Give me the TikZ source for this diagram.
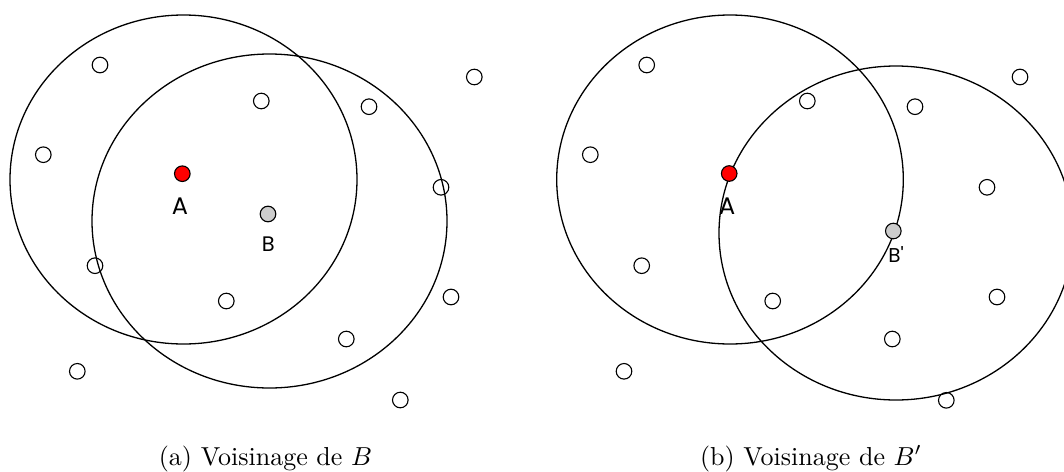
\documentclass[tikz,border=0pt]{standalone}
\usepackage{fontspec}
\newfontfamily\labfont{Poppins}
\begin{document}
\begin{tikzpicture}[x=1pt,y=-1pt,
  dot/.style={circle,draw=black,line width=1.1pt,minimum size=15.6pt,inner sep=0pt},
  reddot/.style={dot,fill=red},
  graydot/.style={dot,fill=black!20},
  zone/.style={draw=black,line width=1.3pt},
  lab/.style={inner sep=0pt,font=\labfont},
  captext/.style={inner sep=0pt,anchor=base,scale=2.6}]
\clip (0,0) rectangle (1064,471);
% ---------- (a) ----------
\coordinate (ca1) at (183.5,179.5);
\coordinate (ca2) at (269.5,221);
\draw[zone] (ca1) ellipse [x radius=173.5pt,y radius=164.5pt];
\draw[zone] (ca2) ellipse [x radius=177.5pt,y radius=167pt];
\foreach \i/\px/\py in {1/100/65,2/474.3/77,3/261.3/101,4/369/106.7,5/43.3/154.7,6/441/187.3,
  7/95/265.7,8/451/297,9/226.3/301,10/346.3/339,11/77.3/371.3,12/400.3/400}
  \node[dot] (l\i) at (\px,\py) {};
\node[reddot] (la) at (182.3,173.7) {};
\node[graydot] (lb) at (268,214) {};
\node[lab,font=\labfont\fontsize{24}{28}\selectfont] (lalab) at (180,206.5) {A};
\node[lab,font=\labfont\fontsize{21}{25}\selectfont] (lblab) at (268.3,244.5) {B};
\node[captext] (capa) at (265.5,465) {(a) Voisinage de $B$};
% ---------- (b) ----------
\coordinate (cb1) at (730,179.5);
\coordinate (cb2) at (896,233);
\draw[zone] (cb1) ellipse [x radius=173.3pt,y radius=164.5pt];
\draw[zone] (cb2) ellipse [x radius=177pt,y radius=167pt];
\foreach \i/\px/\py in {1/646.7/65,2/1020/77,3/807.3/101,4/915/106.7,5/590.3/154.7,6/987/187.3,
  7/641.7/265.7,8/997/297,9/772.7/301,10/892.3/339,11/624/371.3,12/946.3/400.3}
  \node[dot] (r\i) at (\px,\py) {};
\node[reddot] (ra) at (729.2,173.5) {};
\node[graydot] (rb) at (893.3,231) {};
\node[lab,font=\labfont\fontsize{24}{28}\selectfont] (ralab) at (727.3,206.5) {A};
\node[lab,font=\labfont\fontsize{20}{24}\selectfont] (rblab) at (896,254.5) {B'};
\node[captext] (capb) at (811,465) {(b) Voisinage de $B'$};
\end{tikzpicture}
\end{document}
